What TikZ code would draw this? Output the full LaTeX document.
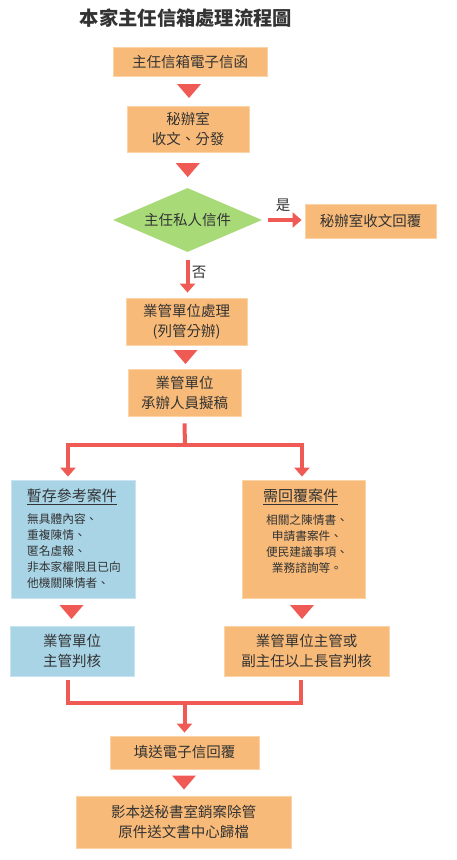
\documentclass[tikz,border=0pt]{standalone}
\usepackage{fontspec}
\setmainfont{Noto Sans CJK TC}
\usetikzlibrary{shapes.geometric,arrows.meta,calc}
\definecolor{boxorange}{HTML}{F8BA78}
\definecolor{orangeedge}{HTML}{FBD3A8}
\definecolor{boxblue}{HTML}{A8D4E6}
\definecolor{blueedge}{HTML}{C8E4F0}
\definecolor{boxgreen}{HTML}{A8DA78}
\definecolor{arrowred}{HTML}{F05A55}
\definecolor{textgray}{HTML}{333333}
\tikzset{
  obox/.style={fill=boxorange, draw=orangeedge, line width=0.8pt, inner sep=0pt, align=center, text=textgray, font=\fontsize{14.5}{20}\selectfont},
  bbox/.style={obox, fill=boxblue, draw=blueedge},
  conn/.style={draw=arrowred, line width=4pt},
  tip/.style={-{Triangle[length=9pt,width=15pt]}},
  lbl/.style={text=textgray, inner sep=0pt, font=\fontsize{14.5}{18}\selectfont},
  small/.style={text=textgray, inner sep=0pt, font=\fontsize{11.7}{16}\selectfont},
  drop/.pic={\fill[arrowred] (-12,7) -- (12,7) -- (0,-7) -- cycle;}
}
\begin{document}
\begin{tikzpicture}[x=1pt,y=1pt]
\useasboundingbox (0,0) rectangle (456,-860);
% title
\node[text=textgray, inner sep=0pt, font=\fontsize{19.3}{23}\selectfont\bfseries] (title) at (186,-18) {本家主任信箱處理流程圖};
% boxes
\node[obox, minimum width=154, minimum height=29] (b1) at (190,-61.5) {主任信箱電子信函};
\node[obox, minimum width=122, minimum height=46] (b2) at (188,-129) {秘辦室\\收文、分發};
\node[diamond, fill=boxgreen, inner sep=0pt, aspect=2.33, minimum width=149, minimum height=64, text=textgray, font=\fontsize{14.5}{20}\selectfont] (dia) at (187.5,-220) {主任私人信件};
\node[obox, minimum width=131, minimum height=34] (yes) at (370.5,-221) {秘辦室收文回覆};
\node[obox, minimum width=121, minimum height=47] (b3) at (186.5,-321.5) {業管單位處理\\(列管分辦)};
\node[obox, minimum width=113, minimum height=47] (b4) at (184.5,-392.5) {業管單位\\承辦人員擬稿};
\node[bbox, minimum width=124, minimum height=118] (blue1) at (73,-539) {};
\node[obox, minimum width=123, minimum height=118] (org1) at (303.5,-539) {};
\node[lbl, font=\fontsize{15}{18}\selectfont] (blue1t) at (72,-497) {\underline{暫存參考案件}};
\node[small, anchor=north west, align=left] (blue1b) at (27,-513) {無具體內容、\\重複陳情、\\匿名虛報、\\非本家權限且已向\\他機關陳情者、};
\node[lbl, font=\fontsize{15}{18}\selectfont] (org1t) at (300.5,-497) {\underline{需回覆案件}};
\node[small, anchor=north, align=center] (org1b) at (307,-514) {相關之陳情書、\\申請書案件、\\便民建議事項、\\業務諮詢等。};
\node[bbox, minimum width=124, minimum height=50] (blue2) at (72,-651) {業管單位\\主管判核};
\node[obox, minimum width=165, minimum height=50] (org2) at (306.5,-651) {業管單位主管或\\副主任以上長官判核};
\node[obox, minimum width=149, minimum height=33] (b5) at (184.5,-752.5) {填送電子信回覆};
\node[obox, minimum width=215, minimum height=52] (b6) at (183.5,-822) {影本送秘書室銷案除管\\原件送文書中心歸檔};
% labels
\node[lbl] (shi) at (283,-205) {是};
\node[lbl] (fou) at (199,-272) {否};
% drop triangles
\pic at ($(b1.south)!.5!(b2.north)$) {drop};
\pic at ($(b2.south)!.5!(dia.north)$) {drop};
\pic at ($(b3.south)!.5!(b4.north)$) {drop};
\pic at ($([xshift=-1pt]blue1.south)!.5!([xshift=-1pt]blue2.north)$) {drop};
\pic at ($([xshift=-1.5pt]org1.south)!.5!([xshift=-1.5pt]org1.south |- org2.north)$) {drop};
\pic at ($(b5.south)!.5!(b6.north)$) {drop};
% connectors
\draw[conn, tip] ([xshift=6pt]dia.east) -- ([xshift=-3pt]yes.west |- dia.east);
\draw[conn, tip] ([yshift=-8pt]dia.south) -- ([yshift=5pt]dia.south |- b3.north);
\coordinate (split) at (185,-445);
\draw[conn] ([yshift=-7pt]b4.south) -- (split);
\draw[conn, tip] (split) -| ([xshift=-5pt,yshift=3pt]blue1.north);
\draw[conn, tip] (split) -| ([xshift=-1.5pt,yshift=3pt]org1.north);
\coordinate (merge) at (184.5,-703);
\draw[conn] ([xshift=-4pt,yshift=-4pt]blue2.south) |- (merge);
\draw[conn] ([xshift=-5.5pt,yshift=-4pt]org2.south) |- (merge);
\draw[conn, tip] (merge) -- ([yshift=3pt]b5.north);
\end{tikzpicture}
\end{document}
